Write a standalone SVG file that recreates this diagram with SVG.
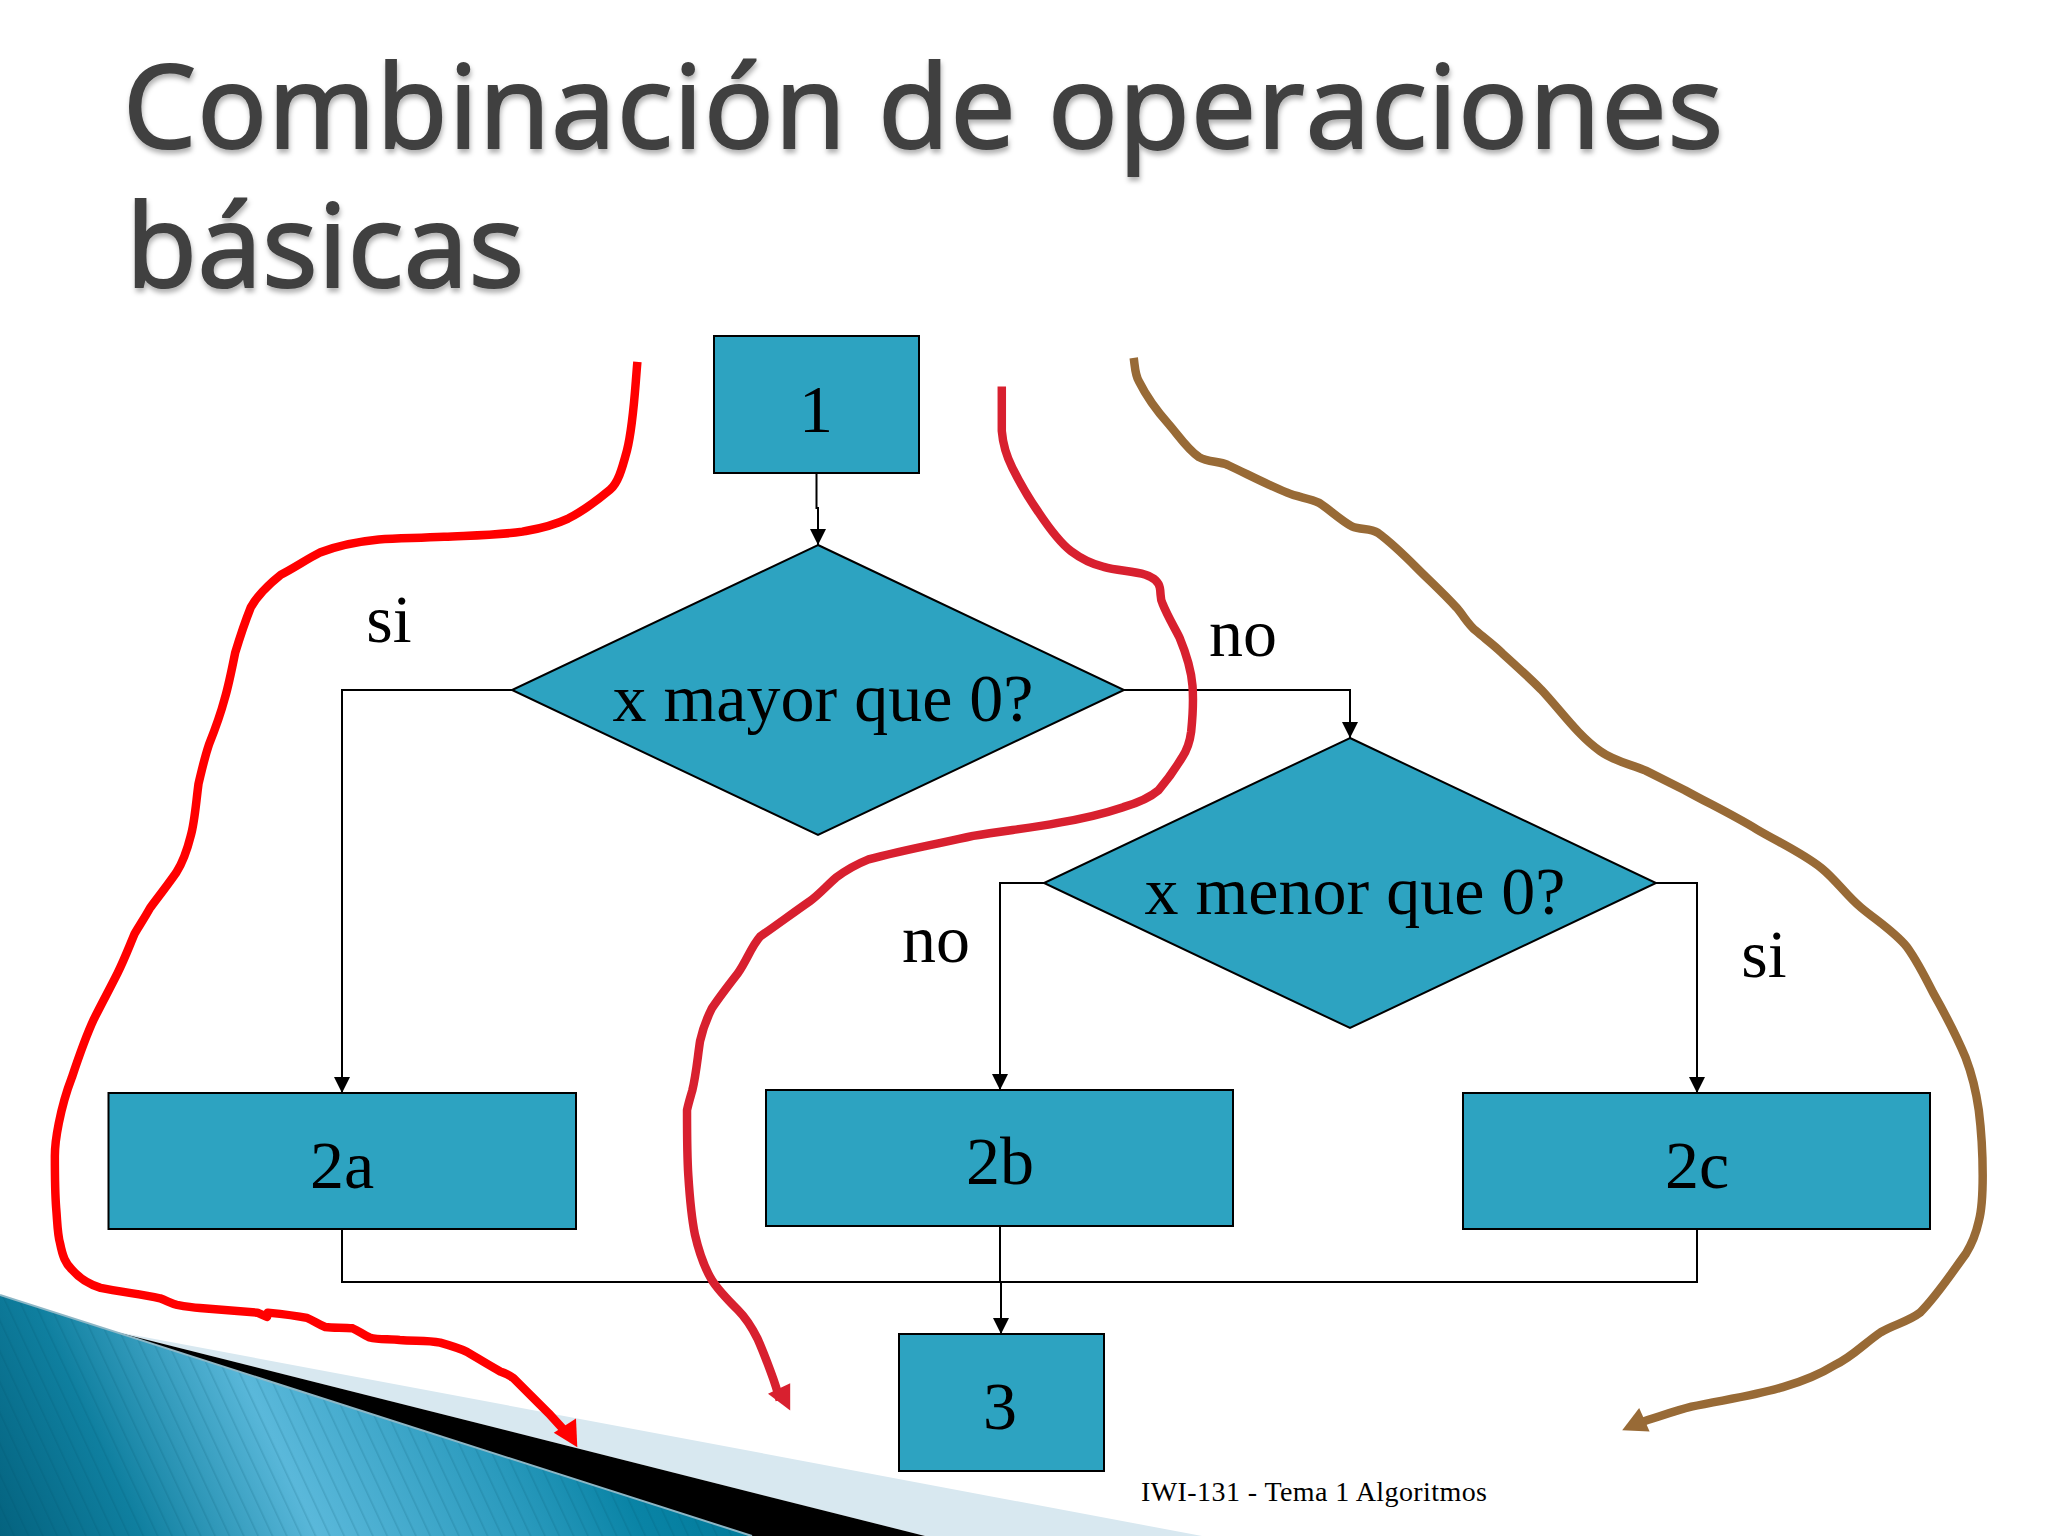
<svg xmlns="http://www.w3.org/2000/svg" width="2048" height="1536" viewBox="0 0 2048 1536">
<style>
.n{fill:#2da3c1;stroke:#000;stroke-width:2}
.t{font-family:"Liberation Serif","Times New Roman",serif;font-size:68px;fill:#000;text-anchor:middle}
.c{fill:none;stroke:#000;stroke-width:2}
.title{font-family:"Open Sans","Noto Sans",sans-serif;font-size:116px;fill:#404040;stroke:#404040;stroke-width:2.2;filter:url(#sh)}
.hand{fill:none;stroke-width:6.5;stroke-linejoin:round}
</style>
<defs>
<marker id="a" markerUnits="userSpaceOnUse" markerWidth="18" markerHeight="18" refX="16" refY="8" orient="auto"><path d="M0 0L16 8L0 16Z" fill="#000"/></marker>
<filter id="sh" x="-5%" y="-10%" width="110%" height="130%"><feDropShadow dx="1" dy="4" stdDeviation="2.5" flood-color="#000" flood-opacity=".3"/></filter>
<linearGradient id="g" gradientUnits="userSpaceOnUse" x1="27" y1="1623" x2="664" y2="1329"><stop offset="0" stop-color="#03607c"/><stop offset=".2" stop-color="#0f7f9f"/><stop offset=".43" stop-color="#5ab8da"/><stop offset=".7" stop-color="#2a9abd"/><stop offset=".85" stop-color="#0a84a6"/><stop offset="1" stop-color="#007a9a"/></linearGradient>
<pattern id="st" patternUnits="userSpaceOnUse" width="13" height="13" patternTransform="rotate(-25)"><rect width="1.6" height="13" fill="#004a66" opacity=".16"/></pattern>
</defs>
<g id="decor">
<polygon points="112,1331 1202,1536 925,1536" fill="#d8e8f0"/>
<polygon points="112,1331 925,1536 752,1536" fill="#000"/>
<polygon points="0,1295 752,1536 0,1536" fill="url(#g)"/>
<polygon points="0,1295 752,1536 0,1536" fill="url(#st)"/>
<line x1="0" y1="1295" x2="752" y2="1536" stroke="#8db7c6" stroke-width="2"/>
</g>
<g id="title">
<text class="title" x="123" y="148" textLength="1600">Combinación de operaciones</text>
<text class="title" x="126" y="287" textLength="398">básicas</text>
</g>
<g id="connectors">
<path class="c" d="M816.5 473V508H818V545" marker-end="url(#a)"/>
<path class="c" d="M512 690H342V1093" marker-end="url(#a)"/>
<path class="c" d="M1124 690H1350V738" marker-end="url(#a)"/>
<path class="c" d="M1044 883H1000V1090" marker-end="url(#a)"/>
<path class="c" d="M1656 883H1697V1093" marker-end="url(#a)"/>
<path class="c" d="M342 1229V1282H1697V1229"/>
<path class="c" d="M1000 1226V1282H1001V1334" marker-end="url(#a)"/>
</g>
<g id="n1"><rect class="n" x="714" y="336" width="205" height="137"/><text class="t" x="816" y="432">1</text></g>
<g id="d1"><polygon class="n" points="818,545 1124,690 818,835 512,690"/><text class="t" x="823" y="721">x mayor que 0?</text></g>
<g id="d2"><polygon class="n" points="1350,738 1656,883 1350,1028 1044,883"/><text class="t" x="1355" y="914">x menor que 0?</text></g>
<g id="n2a"><rect class="n" x="108.500" y="1093" width="467.500" height="136"/><text class="t" x="342" y="1188">2a</text></g>
<g id="n2b"><rect class="n" x="766" y="1090" width="467" height="136"/><text class="t" x="1000" y="1184">2b</text></g>
<g id="n2c"><rect class="n" x="1463" y="1093" width="467" height="136"/><text class="t" x="1697" y="1188">2c</text></g>
<g id="n3"><rect class="n" x="899" y="1334" width="205" height="137"/><text class="t" x="1000" y="1429">3</text></g>
<g id="labels">
<text class="t" x="389" y="642">si</text>
<text class="t" x="1243" y="656">no</text>
<text class="t" x="936" y="962">no</text>
<text class="t" x="1764" y="977">si</text>
<text x="1141" y="1501" textLength="346" style="font-family:'Liberation Serif',serif;font-size:28px;fill:#000">IWI-131 - Tema 1 Algoritmos</text>
</g>
<g id="hand-connectors">
<g transform="scale(1.30612)">
<path class="hand" stroke="#ff0000" d="M488 277C486 300 485 325 480 345C476 360 473 370 467 375C455 385 445 392 435 397C420 404 405 406 400 407C380 410 360 410 340 411C320 412 305 412 290 413C270 415 255 419 245 423C235 428 225 435 215 440C205 448 197 456 192 465C186 480 183 490 180 500C177 515 175 525 172 535C168 550 164 560 160 570C156 582 154 592 152 600C150 615 149 630 146 640C143 652 140 660 135 668C128 678 121 687 115 695C110 704 107 708 103 715C98 727 95 735 90 745C84 757 78 768 72 780C65 795 60 810 55 825C50 838 47 850 45 860C43 870 42 878 42 885C42 900 42 912 43 925C44 937 44 945 46 952C48 962 50 967 55 972C62 980 70 984 77 986C92 989 108 991 122.500 994C128 996 131 998 135.500 999C141 1000 147 1001 153 1001.500L197 1005L204.400 1008.300L205 1005C215 1006 225 1007 235 1009C240 1011 244 1014 249 1016C256 1017 263 1016 270 1017C275 1019 278 1022 283 1024C290 1026 298 1025 306 1026C317 1027 327 1026 337 1028C344 1030 351 1032 357.500 1035C366 1040 374 1045 383 1050C386 1051 390 1053 393 1055L420 1082L431 1094"/>
<polygon fill="#ff0000" points="442,1108 441,1086 424,1097"/>
<path class="hand" stroke="#d8202f" d="M767 296C767 310 767 320 767 330C768 342 771 350 775 358C781 370 788 382 795 392C803 404 811 415 820 422C828 428 836 432 845 434C855 437 867 437 877 440C883 442 887 445 888 450C889 455 888 458 890 462C894 472 899 480 903 488C908 500 912 512 913 525C914 538 913 550 912 560C911 568 909 574 905 580C899 590 893 598 887 605C880 611 870 615 860 618C845 623 828 627 810 630C790 634 768 636 745 640C718 646 690 651 665 658C655 662 648 666 640 672C633 678 627 685 620 690C607 699 595 708 582 717C575 725 572 735 565 745C558 754 551 763 545 772C541 780 538 788 536 797C534 810 533 823 530 835C528 842 527 845 526 850C526 870 526 885 527 900C528 916 529 930 532 945C535 958 539 970 545 980C550 988 558 996 565 1003C572 1010 576 1017 580 1025C584 1034 587 1042 590 1050C593 1058 595 1064 597 1072"/>
<polygon fill="#d8202f" points="605,1080 605,1059 588,1067"/>
<path class="hand" stroke="#986a36" d="M868 274C869 281 869 287 872 292C878 304 886 315 895 325C902 333 909 344 918 350C925 354 933 353 940 356C955 363 970 371 985 377C994 381 1002 381 1010 385C1019 391 1026 398 1035 403C1042 406 1049 404 1055 408C1066 416 1075 425 1085 435C1095 445 1106 455 1115 465C1121 472 1124 478 1130 483C1137 489 1144 494 1150 500C1160 509 1170 518 1180 528C1195 544 1208 563 1225 575C1236 583 1248 585 1260 590C1270 595 1280 600 1290 605C1308 615 1327 624 1345 635C1362 645 1380 653 1395 665C1406 674 1414 686 1425 695C1437 705 1450 713 1460 725C1468 736 1474 748 1480 760C1489 776 1498 793 1505 810C1510 823 1513 836 1515 850C1517 866 1518 883 1518 900C1518 912 1518 924 1515 935C1513 944 1510 952 1505 960C1494 975 1483 992 1470 1005C1461 1012 1450 1014 1440 1020C1428 1028 1418 1039 1405 1045C1392 1053 1379 1058 1365 1062C1342 1069 1318 1072 1295 1077C1283 1080 1272 1084 1256 1089"/>
<polygon fill="#986a36" points="1242,1095 1255,1078 1263,1096"/>
</g>
</g>
</svg>
